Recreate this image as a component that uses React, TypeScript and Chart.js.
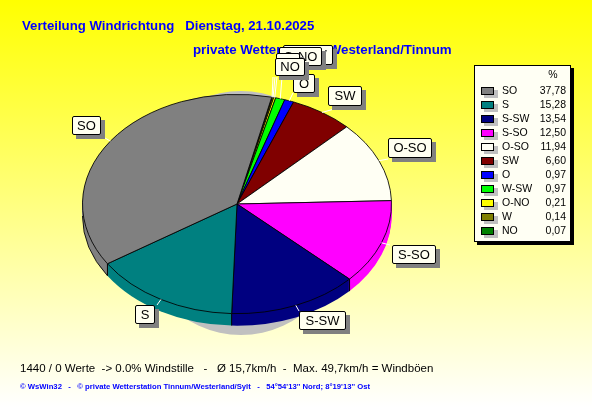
import React, { useEffect, useRef } from "react";
import { Chart, registerables } from "chart.js";

Chart.register(...registerables);

// Legend order (descending share)
const categories = ["SO", "S", "S-SW", "S-SO", "O-SO", "SW", "O", "W-SW", "O-NO", "W", "NO"];
const shares = [37.78, 15.28, 13.54, 12.5, 11.94, 6.6, 0.97, 0.97, 0.21, 0.14, 0.07];
const shareLabels = ["37,78", "15,28", "13,54", "12,50", "11,94", "6,60", "0,97", "0,97", "0,21", "0,14", "0,07"];
const colors = ["#808080", "#008080", "#000080", "#ff00ff", "#fffff4", "#800000", "#0000ff", "#00ff00", "#ffff00", "#808000", "#008000"];

const titleLine1 = "Verteilung Windrichtung   Dienstag, 21.10.2025";
const titleLine2 = "private Wetterstation Westerland/Tinnum";
const statsLine = "1440 / 0 Werte  -> 0.0% Windstille   -   Ø 15,7km/h  -  Max. 49,7km/h = Windböen";
const footerLine = "© WsWin32   -   © private Wetterstation Tinnum/Westerland/Sylt   -   54°54'13'' Nord; 8°19'13'' Ost";

// Label boxes: x0, y0, x1, y1, leader start (on box side)
const labelBoxes: Record<string, number[]> = {
  SO: [72, 116, 101, 135, 105, 138],
  S: [135, 305, 155, 324, 157, 305],
  "S-SW": [299, 311, 346, 330, 299, 311],
  "S-SO": [392, 245, 436, 264, 390, 245],
  "O-SO": [388, 138, 432, 158, 388, 159],
  SW: [328, 86, 362, 106, 345, 106],
  O: [293, 74, 315, 93, 293, 93],
  "W-SW": [283, 45, 333, 65, 282, 77],
  "O-NO": [279, 47, 322, 66, 277, 77],
  W: [276, 53, 300, 72, 275, 77],
  NO: [275, 58, 305, 76, 273, 77],
};

const CX = 237;
const CY = 204;
const RX = 155;
const RY = 110;
const DEPTH = 12;
const SY = RY / RX;
const SANS = '"Liberation Sans", Arial, sans-serif';

const piePlugin = {
  id: "pie3d",
  beforeDraw(chart: any) {
    const { ctx, width, height } = chart;
    const g = ctx.createLinearGradient(0, 0, 0, height);
    g.addColorStop(0, "#ffff00");
    g.addColorStop(1, "#ffffff");
    ctx.save();
    ctx.fillStyle = g;
    ctx.fillRect(0, 0, width, height);
    ctx.textBaseline = "alphabetic";
    ctx.fillStyle = "#0000ff";
    ctx.font = `bold 13.2px ${SANS}`;
    ctx.fillText(titleLine1, 22, 30);
    ctx.font = `bold 13.3px ${SANS}`;
    ctx.fillText(titleLine2, 193, 54);
    ctx.fillStyle = "#000000";
    ctx.font = `11.5px ${SANS}`;
    ctx.fillText(statsLine, 20, 372);
    ctx.fillStyle = "#0000ff";
    ctx.font = `bold 7.7px ${SANS}`;
    ctx.fillText(footerLine, 20, 389);
    ctx.restore();
  },
  beforeDatasetsDraw(chart: any) {
    const { ctx } = chart;
    const arcs = chart.getDatasetMeta(0).data;
    ctx.save();
    ctx.fillStyle = "#c0c0c0";
    ctx.beginPath();
    ctx.ellipse(241, 213, 110, 122, 0, 0, Math.PI * 2);
    ctx.fill();
    ctx.restore();

    ctx.save();
    ctx.translate(CX, CY);
    ctx.scale(1, SY);
    ctx.translate(-CX, -CY);
    for (let d = DEPTH; d >= 1; d--) {
      ctx.save();
      ctx.translate(0, d / SY);
      arcs.forEach((el: any) => {
        const p = el.getProps(["x", "y", "startAngle", "endAngle", "outerRadius"], true);
        ctx.fillStyle = el.options.backgroundColor;
        ctx.beginPath();
        ctx.moveTo(p.x, p.y);
        ctx.arc(p.x, p.y, p.outerRadius, p.startAngle, p.endAngle);
        ctx.closePath();
        ctx.fill();
      });
      ctx.restore();
    }
    // Outer edge of the wall where the largest slice wraps the left side
    const big = arcs[arcs.length - 1].getProps(["x", "y", "startAngle", "outerRadius"], true);
    ctx.save();
    ctx.translate(0, DEPTH / SY);
    ctx.strokeStyle = "#000000";
    ctx.lineWidth = 1;
    ctx.beginPath();
    ctx.arc(big.x, big.y, big.outerRadius, big.startAngle, Math.PI);
    ctx.stroke();
    ctx.restore();
    ctx.restore();

    ctx.save();
    ctx.strokeStyle = "#000000";
    ctx.lineWidth = 1;
    arcs.forEach((el: any) => {
      const p = el.getProps(["x", "y", "startAngle", "outerRadius"], true);
      if (Math.sin(p.startAngle) > 0.05) {
        const x = p.x + p.outerRadius * Math.cos(p.startAngle);
        const y = CY + p.outerRadius * Math.sin(p.startAngle) * SY;
        ctx.beginPath();
        ctx.moveTo(x, y);
        ctx.lineTo(x, y + DEPTH);
        ctx.stroke();
      }
    });
    ctx.restore();

    ctx.save();
    ctx.translate(CX, CY);
    ctx.scale(1, SY);
    ctx.translate(-CX, -CY);
  },
  afterDatasetsDraw(chart: any) {
    const { ctx } = chart;
    ctx.restore();
    const arcs = chart.getDatasetMeta(0).data;
    const arcOf: Record<string, any> = {};
    categories.forEach((c, i) => (arcOf[c] = arcs[arcs.length - 1 - i]));

    // Leaders
    ctx.save();
    ctx.strokeStyle = "#ffffff";
    ctx.lineWidth = 1;
    categories.forEach((c) => {
      const b = labelBoxes[c];
      const p = arcOf[c].getProps(["startAngle", "endAngle", "outerRadius"], true);
      const mid = (p.startAngle + p.endAngle) / 2;
      const x = CX + p.outerRadius * Math.cos(mid);
      const y = CY + p.outerRadius * Math.sin(mid) * SY;
      ctx.beginPath();
      ctx.moveTo(x, y);
      ctx.lineTo(b[4], b[5]);
      ctx.stroke();
    });
    ctx.restore();

    // Label boxes
    ctx.save();
    ctx.textAlign = "center";
    ctx.textBaseline = "middle";
    ctx.font = `13px ${SANS}`;
    categories.forEach((c) => {
      const [x0, y0, x1, y1] = labelBoxes[c];
      ctx.fillStyle = "#808080";
      ctx.fillRect(x0 + 4, y0 + 4, x1 - x0, y1 - y0);
      ctx.fillStyle = "#fffff0";
      ctx.strokeStyle = "#000000";
      ctx.lineWidth = 1;
      ctx.beginPath();
      ctx.roundRect(x0 + 0.5, y0 + 0.5, x1 - x0 - 1, y1 - y0 - 1, 1.5);
      ctx.fill();
      ctx.stroke();
      ctx.fillStyle = "#000000";
      ctx.fillText(c, (x0 + x1) / 2, (y0 + y1) / 2 + 0.5);
    });
    ctx.restore();

    // Legend table
    ctx.save();
    ctx.fillStyle = "#000000";
    ctx.fillRect(477, 68, 97, 177);
    ctx.fillStyle = "#fffff4";
    ctx.fillRect(474, 65, 97, 177);
    ctx.strokeStyle = "#000000";
    ctx.lineWidth = 1;
    ctx.strokeRect(474.5, 65.5, 96, 176);
    ctx.font = `10.5px ${SANS}`;
    ctx.textBaseline = "middle";
    ctx.textAlign = "center";
    ctx.fillStyle = "#000000";
    ctx.fillText("%", 553, 75);
    categories.forEach((c, i) => {
      const y = 91 + i * 14;
      ctx.fillStyle = "#c0c0c0";
      ctx.fillRect(484, y - 1, 14, 8);
      ctx.fillStyle = colors[i];
      ctx.fillRect(481, y - 4, 13, 8);
      ctx.strokeStyle = "#000000";
      ctx.strokeRect(481.5, y - 3.5, 12, 7);
      ctx.fillStyle = "#000000";
      ctx.textAlign = "left";
      ctx.fillText(c, 502, y + 0.5);
      ctx.textAlign = "right";
      ctx.fillText(shareLabels[i], 566, y + 0.5);
    });
    ctx.restore();
  },
};

export default function App() {
  const ref = useRef<HTMLCanvasElement | null>(null);
  useEffect(() => {
    document.body.style.margin = "0";
    const chart = new Chart(ref.current as HTMLCanvasElement, {
      type: "pie",
      data: {
        labels: categories.slice().reverse(),
        datasets: [
          {
            data: shares.slice().reverse(),
            backgroundColor: colors.slice().reverse(),
            borderColor: "#000000",
            borderWidth: 1,
            clip: false,
          } as any,
        ],
      },
      options: {
        animation: false,
        responsive: false,
        devicePixelRatio: 1,
        rotation: 13,
        layout: { padding: { left: CX - RX, right: 592 - CX - RX, top: CY - RX, bottom: 407 - CY - RX } },
        plugins: { legend: { display: false }, tooltip: { enabled: false }, title: { display: false } },
      },
      plugins: [piePlugin],
    });
    return () => chart.destroy();
  }, []);
  return <canvas ref={ref} width={592} height={407} style={{ display: "block" }} />;
}
